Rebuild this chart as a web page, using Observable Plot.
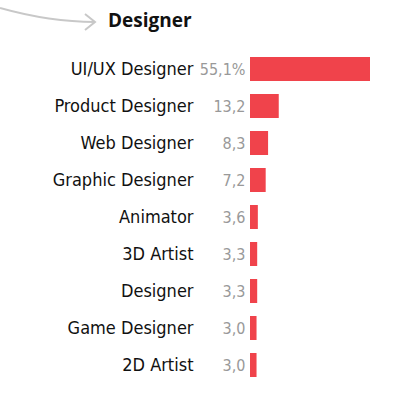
<!DOCTYPE html>
<html>
<head>
<meta charset="utf-8">
<script src="https://cdn.jsdelivr.net/npm/d3@7"></script>
<script src="https://cdn.jsdelivr.net/npm/@observablehq/plot@0.6"></script>
<style>
  body { margin: 0; background: #fff; }
  #header { position: relative; width: 397px; height: 40px; }
  #header svg { position: absolute; left: 0; top: 0; }
  #title { position: absolute; left: 108px; top: 7px; font-family: "Open Sans", sans-serif; font-weight: 700; font-size: 19px; color: #111; }
</style>
</head>
<body>
<div id="header">
  <svg width="397" height="40">
    <path d="M0,8 Q50,22 95,22" fill="none" stroke="#c8c8c8" stroke-width="2"/>
    <path d="M85,14 L95,22 L85,30" fill="none" stroke="#c8c8c8" stroke-width="2"/>
  </svg>
  <div id="title">Designer</div>
</div>
<div id="chart"></div>
<script>
const categories = ["UI/UX Designer", "Product Designer", "Web Designer", "Graphic Designer", "Animator", "3D Artist", "Designer", "Game Designer", "2D Artist"];
const values = [55.1, 13.2, 8.3, 7.2, 3.6, 3.3, 3.3, 3.0, 3.0];
const labels = ["55,1%", "13,2", "8,3", "7,2", "3,6", "3,3", "3,3", "3,0", "3,0"];

const data = categories.map((c, i) => ({category: c, value: values[i], label: labels[i]}));

const chart = Plot.plot({
  width: 397,
  height: 362,
  marginTop: 2,
  marginBottom: 10,
  marginLeft: 250,
  marginRight: 27,
  style: {fontFamily: "'Liberation Sans Narrow', 'DejaVu Sans Condensed', sans-serif"},
  x: {domain: [0, 55.1], axis: null},
  y: {domain: categories, padding: 0.344, label: null, axis: null},
  marks: [
    Plot.axisY({tickSize: 0, tickPadding: 57, fontSize: 18, label: null, fill: "#111"}),
    Plot.barX(data, {x: "value", y: "category", fill: "#f0434b"}),
    Plot.text(data, {x: 0, y: "category", text: "label", textAnchor: "end", dx: -5, fill: "#999", fontSize: 16})
  ]
});
document.getElementById("chart").appendChild(chart);
</script>
</body>
</html>
